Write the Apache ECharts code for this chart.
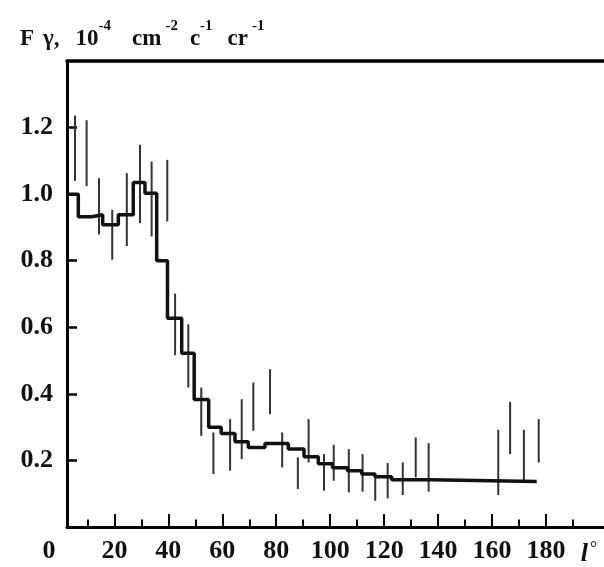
<!DOCTYPE html>
<html>
<head>
<meta charset="utf-8">
<script src="https://cdn.jsdelivr.net/npm/echarts@6/dist/echarts.min.js"></script>
<style>
html,body{margin:0;padding:0;background:#fff;}
#chart{width:604px;height:567px;}
</style>
</head>
<body>
<div id="chart"></div>
<script>
// Histogram bins (left edges + final right edge), flux levels
const binEdges = [2.43, 6.62, 11.58, 15.66, 21.45, 27.0, 31.34, 35.68, 39.68, 44.95, 49.58, 54.96, 59.59, 64.71, 69.64, 75.83, 84.47, 90.29, 95.59, 100.85, 106.41, 111.68, 116.61, 122.8, 137.0, 176.55];
const binFlux = [1.0, 0.932, 0.938, 0.908, 0.938, 1.035, 1.003, 0.80, 0.627, 0.522, 0.383, 0.30, 0.281, 0.256, 0.239, 0.251, 0.234, 0.211, 0.19, 0.178, 0.169, 0.159, 0.151, 0.142, 0.137];

// Error bars
const errX = [5.4, 9.7, 14.3, 19.2, 24.6, 29.5, 33.8, 39.6, 42.5, 47.4, 52.2, 56.7, 62.9, 67.2, 71.5, 77.7, 82.2, 88.0, 92.0, 97.7, 101.3, 106.9, 112.0, 116.7, 121.3, 126.9, 131.7, 136.5, 162.3, 166.7, 171.8, 177.3];
const errLow = [1.04, 1.024, 0.879, 0.803, 0.844, 0.913, 0.873, 0.918, 0.516, 0.419, 0.274, 0.159, 0.169, 0.204, 0.289, 0.339, 0.179, 0.114, 0.194, 0.109, 0.139, 0.104, 0.106, 0.079, 0.086, 0.096, 0.149, 0.106, 0.096, 0.219, 0.139, 0.194];
const errHigh = [1.236, 1.222, 1.048, 0.953, 1.063, 1.148, 1.098, 1.103, 0.701, 0.609, 0.419, 0.284, 0.324, 0.384, 0.434, 0.474, 0.284, 0.209, 0.324, 0.219, 0.247, 0.234, 0.219, 0.149, 0.192, 0.194, 0.269, 0.252, 0.292, 0.376, 0.292, 0.324];

// Tick labels
const xMajorTicks = [20, 40, 60, 80, 100, 120, 140, 160, 180];
const xMinorTicks = [10, 30, 50, 70, 90, 110, 130, 150, 170, 190];
const xZeroLabel = '0';
const yTicks = [0.2, 0.4, 0.6, 0.8, 1.0, 1.2];

const X_MIN = 2.43, X_MAX = 201.5;
const FONT = '"Liberation Serif", "Times New Roman", serif';

const stepData = binEdges.map((e, i) => [e, binFlux[Math.min(i, binFlux.length - 1)]]);
const errData = errX.map((x, i) => [x, errLow[i], errHigh[i]]);

const chart = echarts.init(document.getElementById('chart'), null, {renderer: 'canvas'});

const baseX = {
  type: 'value', min: X_MIN, max: X_MAX, position: 'bottom',
  splitLine: {show: false},
  axisLine: {show: false, onZero: false},
  axisLabel: {show: false},
  axisTick: {show: false}
};

function mainTok(padL) {
  return {fontFamily: FONT, fontWeight: 'bold', fontSize: 23, color: '#111', lineHeight: 40, padding: [0, 0, 0, padL]};
}
function supTok(padL) {
  return {fontFamily: FONT, fontWeight: 'bold', fontSize: 15, color: '#111', lineHeight: 2, verticalAlign: 'top', padding: [0, 0, 0, padL]};
}

chart.setOption({
  animation: false,
  backgroundColor: '#fff',
  title: {
    left: 20, top: 19, padding: 0,
    text: '{f|F}{g|γ}{a|,}{b|10}{s0|-4}{c|cm}{s1|-2}{d|c}{s0|-1}{e|cr}{s1|-1}',
    textStyle: {
      rich: {
        f: mainTok(0),
        g: mainTok(9),
        a: mainTok(0),
        b: mainTok(16),
        c: mainTok(21),
        d: mainTok(12),
        e: mainTok(15),
        s0: supTok(0),
        s1: supTok(4)
      }
    }
  },
  grid: {left: 67, right: 0, top: 61, bottom: 40, containLabel: false},
  xAxis: [
    Object.assign({}, baseX, {
      axisLine: {show: true, onZero: false, lineStyle: {color: '#000', width: 3}},
      axisTick: {show: true, inside: true, length: 13, customValues: xMajorTicks, lineStyle: {color: '#000', width: 2}},
      axisLabel: {
        show: true, margin: 11, customValues: [X_MIN].concat(xMajorTicks),
        formatter: function (v) { return v === X_MIN ? '{z|' + xZeroLabel + '}' : String(v); },
        fontFamily: FONT, fontWeight: 'bold', fontSize: 26, color: '#111',
        rich: {z: {fontFamily: FONT, fontWeight: 'bold', fontSize: 26, color: '#111', padding: [0, 36, 0, 0]}}
      },
      name: '{l|l}{d|°}',
      nameLocation: 'end', nameGap: -15,
      nameTextStyle: {
        align: 'center', verticalAlign: 'top', padding: [13, 0, 0, 0],
        rich: {
          l: {fontFamily: FONT, fontStyle: 'italic', fontWeight: 'bold', fontSize: 26, color: '#111'},
          d: {fontFamily: FONT, fontSize: 18, color: '#111', verticalAlign: 'top', padding: [0, 0, 10, 2]}
        }
      }
    }),
    Object.assign({}, baseX, {
      axisTick: {show: true, inside: true, length: 7.5, customValues: xMinorTicks, lineStyle: {color: '#000', width: 2}}
    }),
    Object.assign({}, baseX, {
      position: 'top',
      axisLine: {show: true, onZero: false, lineStyle: {color: '#000', width: 3.5}}
    })
  ],
  yAxis: {
    type: 'value', min: 0, max: 1.4, position: 'left',
    splitLine: {show: false},
    axisLine: {show: true, onZero: false, lineStyle: {color: '#000', width: 3}},
    axisTick: {show: true, inside: true, length: 10, customValues: yTicks, lineStyle: {color: '#000', width: 2.5}},
    axisLabel: {
      customValues: yTicks, margin: 14,
      formatter: function (v) { return v.toFixed(1); },
      fontFamily: FONT, fontWeight: 'bold', fontSize: 26, color: '#111'
    }
  },
  series: [
    {
      type: 'custom',
      xAxisIndex: 0, yAxisIndex: 0,
      data: errData,
      renderItem: function (params, api) {
        const p1 = api.coord([api.value(0), api.value(1)]);
        const p2 = api.coord([api.value(0), api.value(2)]);
        return {
          type: 'line',
          shape: {x1: p1[0], y1: p1[1], x2: p2[0], y2: p2[1]},
          style: {stroke: '#333', lineWidth: 2}
        };
      },
      silent: true, z: 2
    },
    {
      type: 'line',
      xAxisIndex: 0, yAxisIndex: 0,
      step: 'end',
      data: stepData,
      symbol: 'none',
      lineStyle: {color: '#111', width: 3.5},
      silent: true, z: 3
    }
  ]
});
</script>
</body>
</html>
